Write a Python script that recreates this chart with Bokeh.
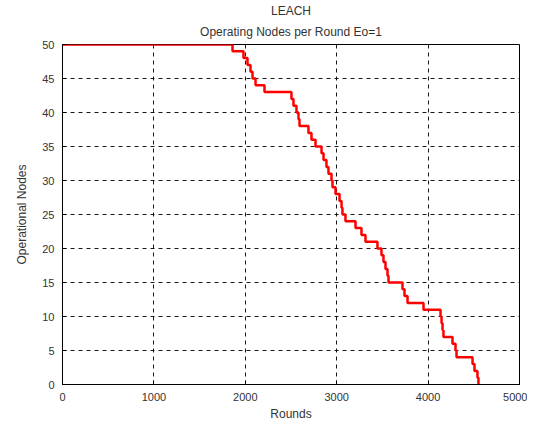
from bokeh.plotting import figure
from bokeh.embed import file_html
from bokeh.resources import INLINE
from bokeh.models import FixedTicker, Range1d, Title

# Rounds at which the count of operating nodes changes, and the new count
rounds = [0, 1860, 1980, 2024, 2057, 2079, 2112, 2210, 2505, 2527, 2560, 2582, 2593,
          2691, 2724, 2768, 2834, 2856, 2888, 2910, 2943, 2954, 2987, 3031, 3053,
          3063, 3096, 3206, 3271, 3315, 3446, 3490, 3512, 3534, 3556, 3567, 3720,
          3742, 3775, 3950, 4136, 4147, 4158, 4168, 4267, 4300, 4311, 4486, 4508,
          4540, 4551]
nodes = [50, 49, 48, 47, 46, 45, 44, 43, 42, 41, 40, 39, 38,
         37, 36, 35, 34, 33, 32, 31, 30, 29, 28, 27, 26,
         25, 24, 23, 22, 21, 20, 19, 18, 17, 16, 15, 14,
         13, 12, 11, 10, 9, 8, 7, 6, 5, 4, 3, 2,
         1, 0]
x_ticks = [0, 1000, 2000, 3000, 4000, 5000]
y_ticks = [0, 5, 10, 15, 20, 25, 30, 35, 40, 45, 50]
title_lines = ["LEACH", "Operating Nodes per Round Eo=1"]

FONT = "Liberation Sans"

p = figure(output_backend="svg", toolbar_location=None,
           frame_width=457, frame_height=340,
           min_border_left=62, min_border_right=8,
           min_border_top=44, min_border_bottom=38,
           x_range=Range1d(0, 5000), y_range=Range1d(0, 50))

standoffs = [0, 11]
for t, s in reversed(list(zip(title_lines, standoffs))):
    p.add_layout(Title(text=t, align="center", text_font=FONT,
                       text_font_size="12px", text_font_style="normal",
                       text_color="#333333", standoff=s), "above")

p.step(rounds, nodes, mode="after", line_color="red", line_width=2.5)

p.xaxis.ticker = FixedTicker(ticks=x_ticks)
p.yaxis.ticker = FixedTicker(ticks=y_ticks)
for ax in (p.xaxis, p.yaxis):
    ax.major_tick_in = 4
    ax.major_tick_out = 0
    ax.minor_tick_line_color = None
    ax.axis_line_color = "black"
    ax.major_tick_line_color = "black"
    ax.major_label_text_font = FONT
    ax.major_label_text_font_size = "11px"
    ax.major_label_text_color = "#333333"
    ax.axis_label_text_font = FONT
    ax.axis_label_text_font_size = "12px"
    ax.axis_label_text_font_style = "normal"
    ax.axis_label_text_color = "#333333"
p.xaxis.axis_label = "Rounds"
p.yaxis.axis_label = "Operational Nodes"
p.xaxis.axis_label_standoff = 3
p.yaxis.axis_label_standoff = 10
p.xaxis.major_label_standoff = 8
p.yaxis.major_label_standoff = 8

p.grid.grid_line_color = "black"
p.grid.grid_line_dash = "4 4"
p.grid.grid_line_alpha = 0.9
p.outline_line_color = "black"
p.outline_line_width = 1
p.background_fill_color = "white"
p.border_fill_color = "white"

open("out.html", "w").write(file_html(p, INLINE))
